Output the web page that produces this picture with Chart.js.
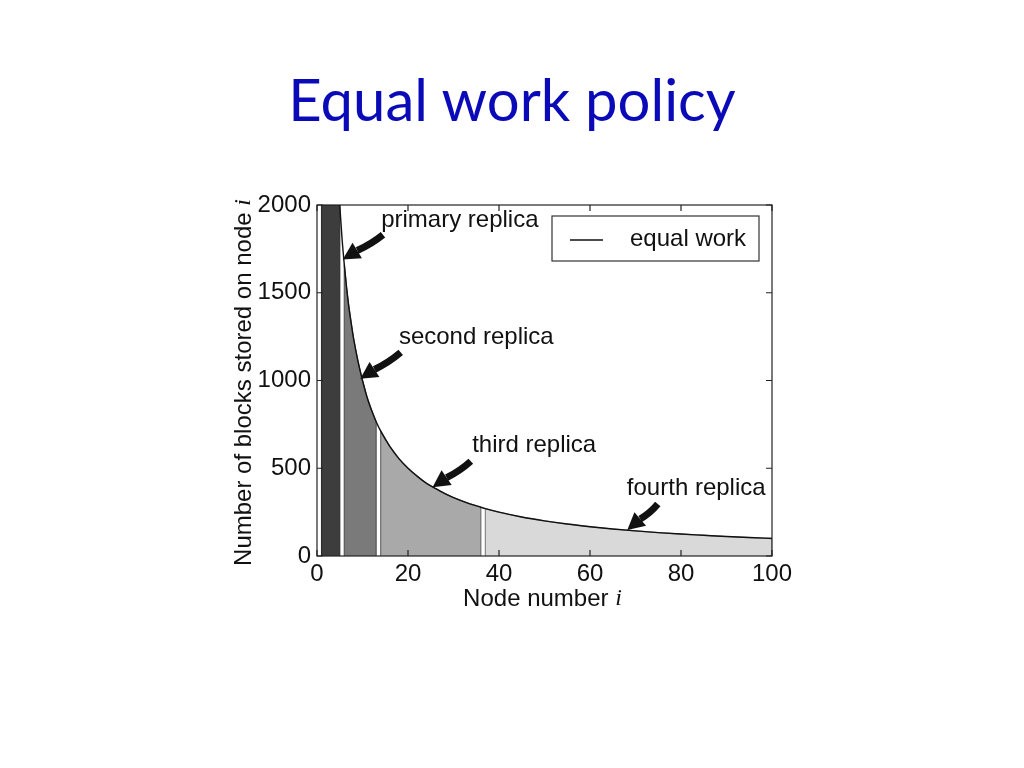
<!DOCTYPE html>
<html>
<head>
<meta charset="utf-8">
<title>Equal work policy</title>
<script src="https://cdn.jsdelivr.net/npm/chart.js@4.4.1/dist/chart.umd.min.js"></script>
<style>
  html, body { margin: 0; padding: 0; background: #fff; }
  #slide { position: relative; width: 1024px; height: 768px; overflow: hidden; }
  #title {
    position: absolute; left: 0; top: 65px; width: 1024px;
    text-align: center; font-family: Lato, "Open Sans", sans-serif;
    font-size: 58px; line-height: 68px; color: #0a0ab8;
  }
  #chart { position: absolute; left: 0; top: 0; }
</style>
</head>
<body>
<div id="slide">
  <div id="title">Equal work policy</div>
  <canvas id="chart" width="1024" height="768"></canvas>
</div>
<script>
// مقادیر منحنی (خوانده شده از تصویر)
const nodeNums = [5, 5.5, 6, 6.5, 7, 7.5, 8, 9, 10, 11, 12, 13, 14, 16, 18, 20, 22, 24, 26, 28, 30, 33, 36,
                  37, 40, 45, 50, 55, 60, 65, 70, 75, 80, 85, 90, 95, 100];
const blocks = [2000, 1810, 1660, 1530, 1420, 1330, 1245, 1110, 1000, 905, 830, 765, 712, 625, 555, 500, 455, 415, 385, 357, 333, 303, 278,
                270, 250, 222, 200, 182, 167, 154, 143, 133, 125, 118, 111, 105, 100];

// بازه‌های هر رپلیکا
const replicaNames = ['primary replica', 'second replica', 'third replica', 'fourth replica'];
const replicaStart = [1, 6, 14, 37];
const replicaEnd = [5, 13, 36, 100];

const xTicks = [0, 20, 40, 60, 80, 100];
const yTicks = [0, 500, 1000, 1500, 2000];

const fillColors = ['#3d3d3d', '#7a7a7a', '#a9a9a9', '#d9d9d9'];
const edgeColors = ['#2b2b2b', '#555555', '#6c6c6c', '#888888'];

// جای برچسب‌ها و فلش‌ها (در واحد داده)
const notes = [
  { text: 'primary replica', x: 14.1, y: 1913, tail: [14.5, 1830], tip: [5.65, 1690] },
  { text: 'second replica', x: 18.0, y: 1243, tail: [18.4, 1160], tip: [9.5, 1010] },
  { text: 'third replica', x: 34.1, y: 629, tail: [33.8, 540], tip: [25.4, 392] },
  { text: 'fourth replica', x: 68.1, y: 385, tail: [74.9, 296], tip: [68.2, 148] }
];

const FONT = '"Liberation Sans", Arial, sans-serif';
const FS = 24;
const yMax = yTicks[yTicks.length - 1];

const curve = nodeNums.map((n, i) => ({ x: n, y: blocks[i] }));

const regionData = (s, e) => {
  const pts = [{ x: s, y: 0 }];
  if (s < nodeNums[0]) pts.push({ x: s, y: yMax });
  nodeNums.forEach((n, i) => {
    if (n >= s && n <= e) pts.push({ x: n, y: Math.min(blocks[i], yMax) });
  });
  pts.push({ x: e, y: 0 });
  return pts;
};

const datasets = [{
  label: 'equal work',
  data: curve,
  borderColor: '#111',
  borderWidth: 1.4,
  pointRadius: 0,
  cubicInterpolationMode: 'monotone',
  fill: false,
  order: 0
}];
replicaNames.forEach((name, k) => {
  datasets.push({
    label: name,
    data: regionData(replicaStart[k], replicaEnd[k]),
    backgroundColor: fillColors[k],
    borderColor: edgeColors[k],
    borderWidth: 1.2,
    pointRadius: 0,
    tension: 0,
    fill: 'origin',
    order: k + 1
  });
});

// قاب، تیک‌های داخلی، عنوان محورها، راهنما و فلش‌ها
const decor = {
  id: 'decor',
  afterDatasetsDraw(chart) {
    const { ctx, chartArea: a, scales: { x, y } } = chart;
    ctx.save();

    // قاب
    ctx.strokeStyle = '#222';
    ctx.lineWidth = 1.2;
    ctx.strokeRect(a.left, a.top, a.right - a.left, a.bottom - a.top);
    ctx.beginPath();
    xTicks.forEach(v => {
      const px = x.getPixelForValue(v);
      ctx.moveTo(px, a.bottom); ctx.lineTo(px, a.bottom - 6);
      ctx.moveTo(px, a.top); ctx.lineTo(px, a.top + 6);
    });
    yTicks.forEach(v => {
      const py = y.getPixelForValue(v);
      ctx.moveTo(a.left, py); ctx.lineTo(a.left + 6, py);
      ctx.moveTo(a.right, py); ctx.lineTo(a.right - 6, py);
    });
    ctx.stroke();

    // فلش‌ها
    ctx.fillStyle = '#111';
    ctx.strokeStyle = '#111';
    notes.forEach(n => {
      const tx = x.getPixelForValue(n.tail[0]), ty = y.getPixelForValue(n.tail[1]);
      const hx = x.getPixelForValue(n.tip[0]), hy = y.getPixelForValue(n.tip[1]);
      const ang = Math.atan2(hy - ty, hx - tx);
      const headLen = 17, headW = 9;
      const bx = hx - headLen * Math.cos(ang), by = hy - headLen * Math.sin(ang);
      const mx = (tx + bx) / 2 + 2 * Math.sin(ang), my = (ty + by) / 2 - 2 * Math.cos(ang);
      ctx.lineWidth = 7;
      ctx.lineCap = 'butt';
      ctx.beginPath();
      ctx.moveTo(tx, ty);
      ctx.quadraticCurveTo(mx, my, bx, by);
      ctx.stroke();
      ctx.beginPath();
      ctx.moveTo(hx, hy);
      ctx.lineTo(bx + headW * Math.sin(ang), by - headW * Math.cos(ang));
      ctx.lineTo(bx - headW * Math.sin(ang), by + headW * Math.cos(ang));
      ctx.closePath();
      ctx.fill();

      ctx.font = FS + 'px ' + FONT;
      ctx.textAlign = 'left';
      ctx.textBaseline = 'middle';
      ctx.fillText(n.text, x.getPixelForValue(n.x), y.getPixelForValue(n.y));
    });

    // راهنما
    const lx = a.left + 235, ly = a.top + 11, lw = 207, lh = 45;
    ctx.fillStyle = '#fff';
    ctx.fillRect(lx, ly, lw, lh);
    ctx.lineWidth = 1.2;
    ctx.strokeStyle = '#333';
    ctx.strokeRect(lx, ly, lw, lh);
    ctx.beginPath();
    ctx.lineWidth = 1.3;
    ctx.strokeStyle = '#111';
    ctx.moveTo(lx + 18, ly + 24); ctx.lineTo(lx + 51, ly + 24);
    ctx.stroke();
    ctx.fillStyle = '#111';
    ctx.font = FS + 'px ' + FONT;
    ctx.textBaseline = 'middle';
    ctx.fillText(chart.data.datasets[0].label, lx + 78, ly + 23);

    // عنوان محورها
    const drawTitle = (main, cx, cy) => {
      ctx.font = FS + 'px ' + FONT;
      const w1 = ctx.measureText(main).width;
      ctx.font = 'italic ' + FS + 'px "Liberation Serif", "DejaVu Serif", serif';
      const w2 = ctx.measureText('i').width;
      const sx = cx - (w1 + w2) / 2;
      ctx.textAlign = 'left';
      ctx.textBaseline = 'middle';
      ctx.font = FS + 'px ' + FONT;
      ctx.fillText(main, sx, cy);
      ctx.font = 'italic ' + FS + 'px "Liberation Serif", "DejaVu Serif", serif';
      ctx.fillText('i', sx + w1, cy);
    };
    ctx.fillStyle = '#111';
    drawTitle('Node number ', (a.left + a.right) / 2 - 2, a.bottom + 43);
    ctx.translate(a.left - 73, (a.top + a.bottom) / 2 + 2);
    ctx.rotate(-Math.PI / 2);
    drawTitle('Number of blocks stored on node ', 0, 0);

    ctx.restore();
  }
};

new Chart(document.getElementById('chart'), {
  type: 'line',
  data: { datasets },
  options: {
    responsive: false,
    animation: false,
    layout: { padding: { left: 227, right: 252, top: 205, bottom: 152 } },
    plugins: { legend: { display: false }, tooltip: { enabled: false }, title: { display: false } },
    scales: {
      x: {
        type: 'linear', min: 0, max: 100,
        afterFit: s => { s.height = 60; },
        afterBuildTicks: s => { s.ticks = xTicks.map(v => ({ value: v })); },
        grid: { display: false, drawTicks: false },
        border: { display: false },
        ticks: { padding: 4, color: '#111', font: { family: FONT, size: FS }, maxRotation: 0,
                 callback: v => String(v) }
      },
      y: {
        type: 'linear', min: 0, max: yMax,
        afterFit: s => { s.width = 90; },
        afterBuildTicks: s => { s.ticks = yTicks.map(v => ({ value: v })); },
        grid: { display: false, drawTicks: false },
        border: { display: false },
        ticks: { padding: 6, color: '#111', font: { family: FONT, size: FS },
                 callback: v => String(v) }
      }
    }
  },
  plugins: [decor]
});
</script>
</body>
</html>
